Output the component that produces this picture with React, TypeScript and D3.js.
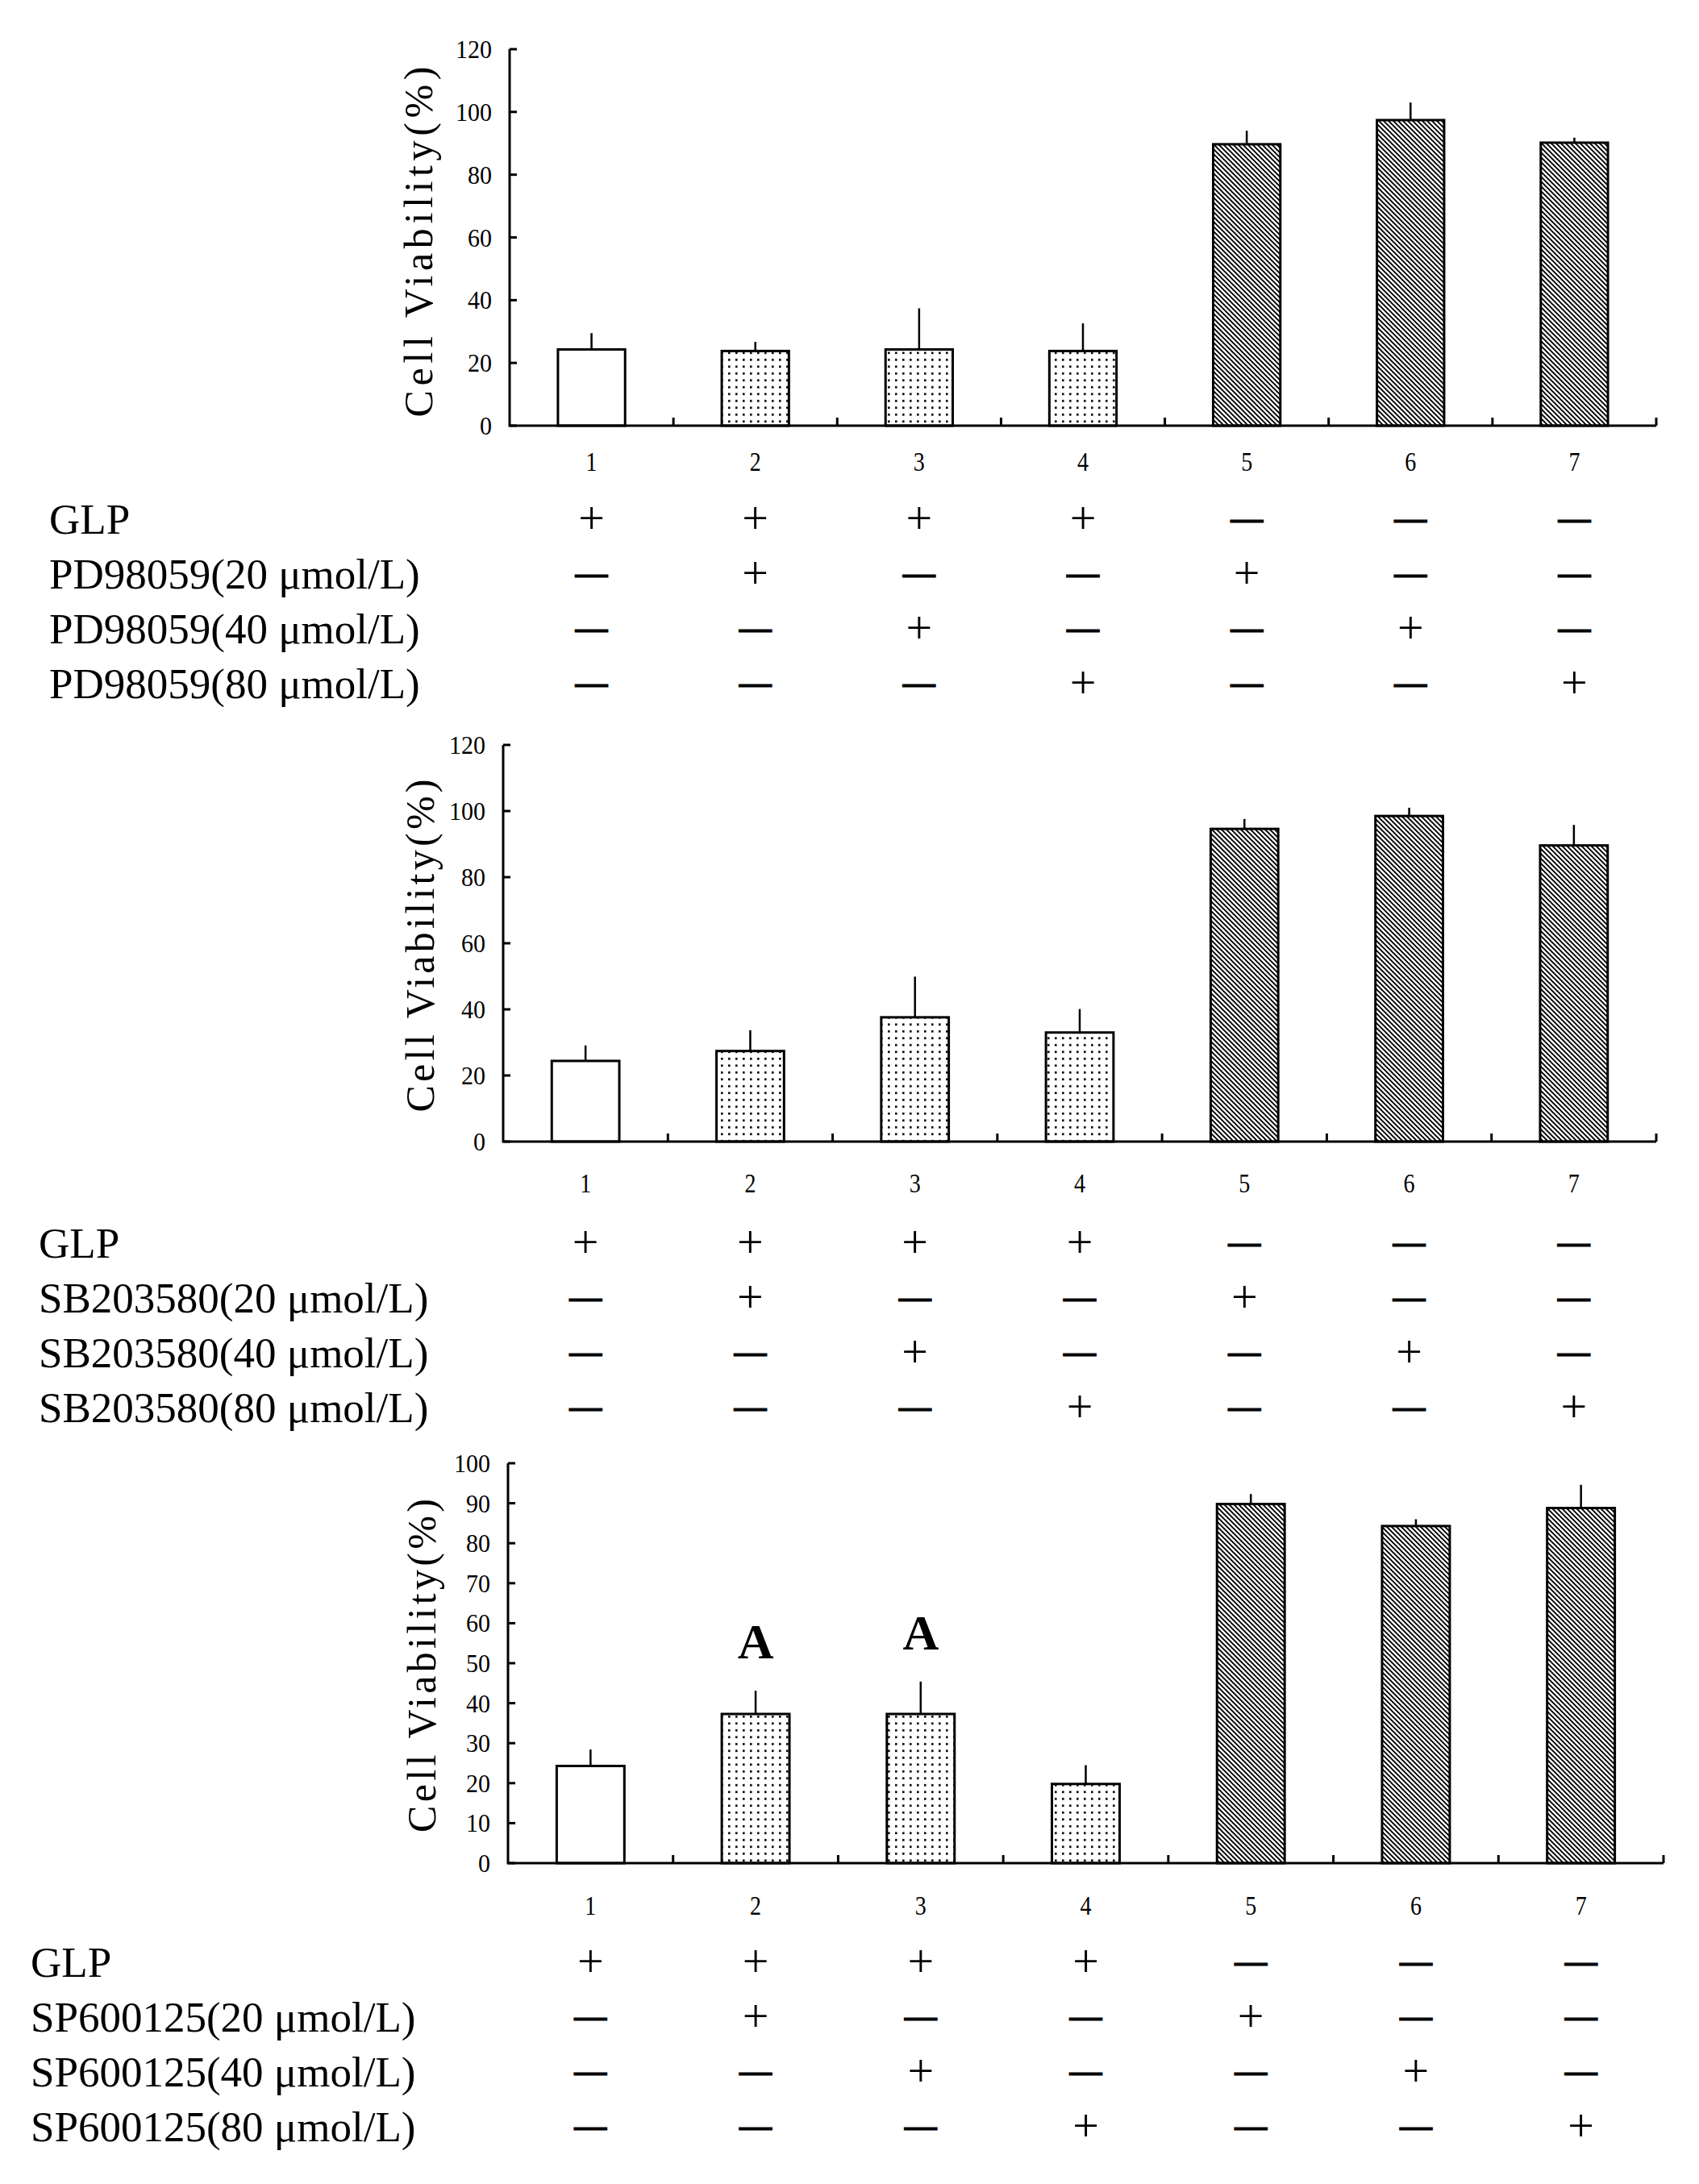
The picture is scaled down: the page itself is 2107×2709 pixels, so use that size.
import React from "react";
import * as d3 from "d3";

// groups 1..7 on the x axis
const groups = ["1", "2", "3", "4", "5", "6", "7"];

// treatment table (+ / —)
const glpRow = ["+", "+", "+", "+", "-", "-", "-"];
const dose20Row = ["-", "+", "-", "-", "+", "-", "-"];
const dose40Row = ["-", "-", "+", "-", "-", "+", "-"];
const dose80Row = ["-", "-", "-", "+", "-", "-", "+"];
const doseLabels = ["20 μmol/L", "40 μmol/L", "80 μmol/L"];
const inhibitors = ["PD98059", "SB203580", "SP600125"];

// cell viability (%) mean and error (upper bar only)
const pdMeans = [24.3, 23.8, 24.3, 23.8, 89.7, 97.4, 90.2];
const pdErr = [5.2, 2.9, 13.1, 8.8, 4.3, 5.6, 1.6];
const sbMeans = [24.4, 27.4, 37.6, 33.0, 94.6, 98.5, 89.6];
const sbErr = [4.7, 6.3, 12.3, 7.1, 3.0, 2.5, 6.2];
const spMeans = [24.3, 37.3, 37.3, 19.8, 89.8, 84.3, 88.8];
const spErr = [4.1, 5.8, 8.1, 4.7, 2.5, 1.7, 5.8];
const spMarks = ["", "A", "A", "", "", "", ""];

const ticks120 = [0, 20, 40, 60, 80, 100, 120];
const ticks100 = [0, 10, 20, 30, 40, 50, 60, 70, 80, 90, 100];
const yTitle = "Cell Viability(%)";

const SERIF = "'Liberation Serif', 'Times New Roman', serif";

interface Layout {
  x0: number;
  x1: number;
  yTopPx: number;
  y0: number;
  numY: number;
  titleX: number;
  titleY: number;
  titleLen: number;
  rowX: number;
  rowBase: number;
}

interface PanelProps {
  means: number[];
  err: number[];
  ticks: number[];
  inhibitor: string;
  marks?: string[];
  lay: Layout;
}

const Panel: React.FC<PanelProps> = ({ means, err, ticks, inhibitor, marks, lay }) => {
  const yMax = ticks[ticks.length - 1];
  const x = d3
    .scaleBand()
    .domain(groups)
    .range([lay.x0, lay.x1])
    .paddingInner(0.59)
    .paddingOuter(0.295);
  const y = d3.scaleLinear().domain([0, yMax]).range([lay.y0, lay.yTopPx]);
  const step = x.step();
  const half = x.bandwidth() / 2;

  // first group open, 2-4 dotted, 5-7 hatched
  const fillFor = (i: number) => (i === 0 ? "#fff" : i < 4 ? "url(#dots)" : "url(#hatch)");

  const rows = [
    { label: "GLP", vals: glpRow },
    { label: `${inhibitor}(${doseLabels[0]})`, vals: dose20Row },
    { label: `${inhibitor}(${doseLabels[1]})`, vals: dose40Row },
    { label: `${inhibitor}(${doseLabels[2]})`, vals: dose80Row },
  ];

  return (
    <g>
      {/* bars */}
      {groups.map((g, i) => (
        <rect
          key={"b" + g}
          x={x(g)!}
          y={y(means[i])}
          width={x.bandwidth()}
          height={lay.y0 - y(means[i])}
          fill={fillFor(i)}
          stroke="#000"
          strokeWidth={3}
        />
      ))}
      {/* error bars (upper only) */}
      {groups.map((g, i) => (
        <line
          key={"e" + g}
          x1={x(g)! + half}
          x2={x(g)! + half}
          y1={y(means[i])}
          y2={y(means[i] + err[i])}
          stroke="#000"
          strokeWidth={2.5}
        />
      ))}
      {/* significance marks */}
      {marks &&
        groups.map((g, i) =>
          marks[i] ? (
            <text
              key={"m" + g}
              x={x(g)! + half}
              y={y(means[i] + err[i]) - 40}
              textAnchor="middle"
              fontFamily={SERIF}
              fontWeight="bold"
              fontSize={62}
            >
              {marks[i]}
            </text>
          ) : null
        )}
      {/* axes */}
      <path
        d={`M${lay.x0},${lay.yTopPx} V${lay.y0} H${lay.x1}`}
        fill="none"
        stroke="#000"
        strokeWidth={3}
      />
      {ticks.map((t) => (
        <g key={"t" + t}>
          <line x1={lay.x0} x2={lay.x0 + 9} y1={y(t)} y2={y(t)} stroke="#000" strokeWidth={3} />
          <text
            x={lay.x0 - 22}
            y={y(t)}
            textAnchor="end"
            dominantBaseline="central"
            fontFamily={SERIF}
            fontSize={32}
            textLength={String(t).length * 15}
            lengthAdjust="spacingAndGlyphs"
          >
            {t}
          </text>
        </g>
      ))}
      {groups.map((g, i) => (
        <line
          key={"xt" + g}
          x1={lay.x0 + step * (i + 1)}
          x2={lay.x0 + step * (i + 1)}
          y1={lay.y0}
          y2={lay.y0 - 10}
          stroke="#000"
          strokeWidth={3}
        />
      ))}
      {groups.map((g) => (
        <text
          key={"xl" + g}
          x={x(g)! + half}
          y={lay.numY}
          textAnchor="middle"
          dominantBaseline="central"
          fontFamily={SERIF}
          fontSize={33}
          textLength={14}
          lengthAdjust="spacingAndGlyphs"
        >
          {g}
        </text>
      ))}
      <text
        transform={`translate(${lay.titleX},${lay.titleY}) rotate(-90)`}
        textAnchor="middle"
        fontFamily={SERIF}
        fontSize={50}
        textLength={lay.titleLen}
        lengthAdjust="spacing"
      >
        {yTitle}
      </text>
      {/* treatment table */}
      {rows.map((r, ri) => {
        const base = lay.rowBase + ri * 68;
        return (
          <g key={"r" + ri}>
            <text x={lay.rowX} y={base} fontFamily={SERIF} fontSize={53}>
              {r.label}
            </text>
            {r.vals.map((v, ci) =>
              v === "+" ? (
                <text
                  key={ci}
                  x={x(groups[ci])! + half}
                  y={base}
                  textAnchor="middle"
                  fontFamily={SERIF}
                  fontSize={58}
                >
                  +
                </text>
              ) : (
                <text
                  key={ci}
                  x={x(groups[ci])! + half}
                  y={base - 6}
                  textAnchor="middle"
                  fontFamily={SERIF}
                  fontWeight="bold"
                  fontSize={40}
                  stroke="#000"
                  strokeWidth={1.2}
                >
                  —
                </text>
              )
            )}
          </g>
        );
      })}
    </g>
  );
};

const layouts: Layout[] = [
  { x0: 632, x1: 2054, yTopPx: 61, y0: 528, numY: 573, titleX: 536, titleY: 300, titleLen: 435, rowX: 61, rowBase: 662 },
  { x0: 624, x1: 2054, yTopPx: 924, y0: 1416, numY: 1468, titleX: 538, titleY: 1173, titleLen: 413, rowX: 48, rowBase: 1560 },
  { x0: 630, x1: 2063, yTopPx: 1815, y0: 2311, numY: 2364, titleX: 540, titleY: 2066, titleLen: 414, rowX: 38, rowBase: 2452 },
];

export default function App() {
  return (
    <svg
      width={2107}
      height={2709}
      style={{ position: "absolute", left: 0, top: 0, background: "#fff" }}
    >
      <defs>
        <pattern id="dots" width={9} height={8.5} patternUnits="userSpaceOnUse">
          <rect width={9} height={8.5} fill="#fff" />
          <rect x={3} y={3} width={2.6} height={2.6} fill="#000" />
        </pattern>
        <pattern id="hatch" width={6} height={6} patternUnits="userSpaceOnUse">
          <rect width={6} height={6} fill="#fff" />
          <path d="M-1,-1 L7,7 M-1,5 L1,7 M5,-1 L7,1" stroke="#000" strokeWidth={1.9} />
        </pattern>
      </defs>
      <rect width={2107} height={2709} fill="#fff" />
      <Panel means={pdMeans} err={pdErr} ticks={ticks120} inhibitor={inhibitors[0]} lay={layouts[0]} />
      <Panel means={sbMeans} err={sbErr} ticks={ticks120} inhibitor={inhibitors[1]} lay={layouts[1]} />
      <Panel
        means={spMeans}
        err={spErr}
        ticks={ticks100}
        inhibitor={inhibitors[2]}
        marks={spMarks}
        lay={layouts[2]}
      />
    </svg>
  );
}
